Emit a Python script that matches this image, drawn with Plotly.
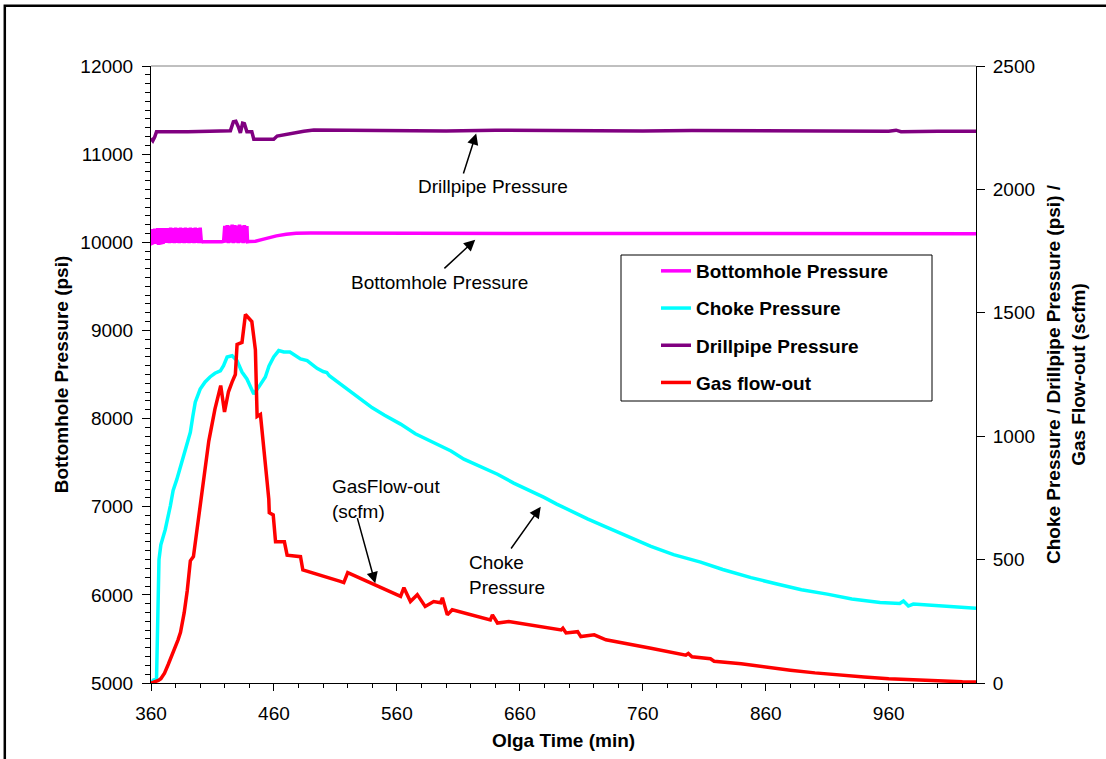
import plotly.graph_objects as go

FONT = "Liberation Sans, Arial, sans-serif"

# ---- Olga simulation output (time in minutes) ----
# Bottomhole pressure (psi, left axis)
bhp_t = [360, 360.5, 361, 362.5, 363, 363.5, 365, 365.5, 366, 367.5, 368, 368.5,
         370, 370.5, 371, 372, 373, 374, 375, 376, 377, 378, 379, 380, 381, 382,
         383, 384, 385, 386, 387, 388, 389, 390, 391, 392, 393, 394, 395, 396,
         397, 398, 399, 400, 401, 401.6, 405, 410, 415, 418.5,
         419, 420, 421, 422, 423, 424, 425, 426, 427, 428, 429, 430, 431, 432,
         433, 434, 435, 436, 437, 438, 438.5,
         440, 445, 450, 455, 462, 470, 478, 490, 520, 560, 600, 650, 700, 750,
         800, 850, 900, 950, 1000, 1031]
bhp_v = [9990, 10150, 9990, 10000, 10155, 10000, 10000, 10160, 9995, 10000, 10160, 9995,
         10000, 10160, 9995, 10160, 9995, 10160, 9990, 10165, 9995, 10160, 9990, 10165, 9995, 10160,
         9990, 10165, 9995, 10160, 9990, 10165, 9995, 10160, 9990, 10165, 9995, 10160, 9990, 10165,
         9995, 10160, 9990, 10165, 9995, 10005, 10005, 10002, 10005, 10008,
         9995, 10185, 9995, 10195, 9990, 10190, 9995, 10200, 9990, 10195, 9995, 10190, 9990, 10200,
         9995, 10190, 9990, 10195, 9995, 10185, 10005,
         10008, 10012, 10030, 10050, 10073, 10090, 10102, 10105, 10103, 10100, 10100, 10102, 10099, 10100,
         10101, 10099, 10100, 10098, 10099, 10098]

# Choke pressure (psi, right axis)
choke_t = [360, 362, 364.5, 366, 366.5, 368, 371.6, 375.7, 378, 381, 383.9, 388, 392, 394,
           396, 400, 404, 408, 412, 416.4, 419, 421.9, 426, 430, 434, 438, 441, 443.6,
           447.6, 453, 456, 459.8, 463.9, 468, 473, 478, 481.6, 487, 495, 500, 503, 505,
           514, 522, 530, 540, 550, 563, 575, 590, 604, 614.5, 625, 641.8, 655, 668,
           679.7, 690, 701.5, 715, 731.3, 750, 766.6, 785, 807, 825, 848, 870, 889,
           910, 930, 953, 969, 972, 976, 980, 1000, 1031]
choke_v = [0, 12, 16, 300, 500, 560, 622, 717, 780, 825, 879, 950, 1016, 1080,
           1138, 1191, 1220, 1240, 1255, 1265, 1286, 1321, 1326, 1306, 1260, 1232, 1195, 1171,
           1199, 1240, 1285, 1321, 1347, 1341, 1341, 1325, 1313, 1306, 1275, 1262, 1258, 1245,
           1211, 1180, 1150, 1115, 1085, 1049, 1010, 975, 940, 907, 885, 846, 810, 780,
           752, 725, 696, 665, 630, 590, 554, 520, 490, 460, 427, 400, 378,
           360, 340, 326, 322, 332, 312, 320, 313, 303]

# Drillpipe pressure (psi, right axis)
dp_t = [360, 361.5, 363, 364.5, 390, 410, 424.6, 427, 429, 431, 432.7, 434.5, 436, 438,
        442, 443.6, 459.8, 462.6, 473.4, 484.3, 492.4, 514, 540, 570, 600, 640, 680,
        720, 760, 800, 850, 900, 960, 966, 970, 1000, 1031]
dp_v = [2207, 2197, 2212, 2234, 2234, 2236, 2238, 2274, 2276, 2254, 2229, 2268, 2266, 2234,
        2234, 2203, 2203, 2216, 2227, 2236, 2241, 2240, 2238, 2240, 2237, 2240, 2238,
        2239, 2237, 2239, 2238, 2237, 2236, 2240, 2234, 2236, 2236]

# Gas flow-out (scfm, right axis)
gas_t = [360, 363, 366, 368, 371, 374, 378, 382, 384, 387, 389.5, 392, 394.5, 398, 402.5,
         407, 412, 416.7, 419.8, 423, 426, 428.6, 430, 434, 436.8, 439, 442, 444.9, 446.3,
         449, 451.7, 454.5, 455.8, 456.2, 459.4, 461.3, 468.5, 470.7, 481.6, 483.5, 514,
         516.8, 520, 563, 565.7, 571, 576.6, 583, 589.9, 595.6, 597, 601, 605, 636, 637.7,
         641.8, 651, 693.6, 695, 697.6, 707, 709.6, 720.5, 730, 766.6, 780, 795, 797, 800,
         815, 818, 840, 860, 880, 900, 920, 940, 960, 980, 1000, 1020, 1031]
gas_v = [0, 4, 10, 17, 40, 75, 122, 175, 205, 285, 375, 495, 512, 640, 820,
         980, 1110, 1205, 1098, 1180, 1220, 1250, 1372, 1380, 1493, 1480, 1465, 1350, 1080,
         1088, 935, 812, 745, 690, 681, 572, 572, 518, 512, 458, 412,
         407, 447, 351, 386, 330, 358, 310, 330, 325, 345, 276, 297, 256, 276,
         243, 249, 215, 222, 203, 208, 188, 195, 175, 141, 128, 113, 120, 106,
         98, 88, 78, 64, 52, 41, 31, 24, 17, 12, 8, 5, 4]

series = [
    ("Bottomhole Pressure", bhp_t, bhp_v, "#FF00FF", "y"),
    ("Choke Pressure", choke_t, choke_v, "#00FFFF", "y2"),
    ("Drillpipe Pressure", dp_t, dp_v, "#800080", "y2"),
    ("Gas flow-out", gas_t, gas_v, "#FF0000", "y2"),
]

fig = go.Figure()
for name, t, v, color, axis in series:
    fig.add_trace(go.Scatter(
        x=t, y=v, name=name, yaxis=axis, mode="lines", legendgroup=name,
        line=dict(color=color, width=3.5),
    ))

# Callout labels and their arrows: (text, text x, text y, yref, align)
labels = [
    ("Drillpipe Pressure", 638.3, 2010, "y2", "center"),
    ("Bottomhole Pressure", 594.8, 9540, "y", "center"),
    ("GasFlow-out<br>(scfm)", 505.7, 744, "y2", "left"),
    ("Choke<br>Pressure", 617.0, 438, "y2", "left"),
]
# (head x, head y, tail x, tail y, yref)
arrows = [
    (624.5, 2227, 613.7, 2058, "y2"),
    (623.7, 10028, 597.4, 9688, "y"),
    (542.4, 404, 527.5, 674, "y2"),
    (677.0, 714, 652.0, 539, "y2"),
]

annotations = []
for text, x, y, yref, align in labels:
    annotations.append(dict(
        text=text, x=x, y=y, xref="x", yref=yref, showarrow=False,
        xanchor="left" if align == "left" else "center", yanchor="middle",
        align=align, font=dict(family=FONT, size=19, color="black"),
    ))
for hx, hy, tx, ty, yref in arrows:
    annotations.append(dict(
        text="", x=hx, y=hy, xref="x", yref=yref, ax=tx, ay=ty,
        axref="x", ayref=yref, showarrow=True, arrowhead=2, arrowsize=1.5,
        arrowwidth=1.5, arrowcolor="black", standoff=0, startstandoff=0,
    ))

tick_font = dict(family=FONT, size=19, color="black")
title_font = dict(family=FONT, size=19, color="black", weight="bold")

# legend frame in pixels of the page (left, right, top, bottom)
PLOT_L, PLOT_R, PLOT_T, PLOT_B = 151, 976, 66, 683
box_l, box_r, box_t, box_b = 621, 932, 255, 401


def px_to_paper_x(px):
    return (px - PLOT_L) / (PLOT_R - PLOT_L)


def px_to_paper_y(py):
    return (PLOT_B - py) / (PLOT_B - PLOT_T)


fig.update_layout(
    width=1106, height=759,
    margin=dict(l=PLOT_L, r=1106 - PLOT_R, t=PLOT_T, b=759 - PLOT_B),
    paper_bgcolor="white", plot_bgcolor="white",
    font=dict(family=FONT, size=19, color="black"),
    showlegend=True,
    legend=dict(
        x=px_to_paper_x(box_l), y=px_to_paper_y(box_t - 3), xanchor="left", yanchor="top",
        borderwidth=0, bgcolor="rgba(0,0,0,0)",
        font=dict(family=FONT, size=19, color="black", weight="bold"),
        tracegroupgap=9.5, indentation=35,
    ),
    xaxis=dict(
        range=[360, 1031], tick0=360, dtick=100,
        ticks="outside", ticklen=7, tickwidth=1, tickcolor="black",
        minor=dict(dtick=20, tick0=360, ticks="outside", ticklen=4, tickcolor="black"),
        showline=True, linecolor="black", linewidth=1,
        showgrid=False, zeroline=False, tickfont=tick_font,
        ticklabelstandoff=6,
        title=dict(text="Olga Time (min)", font=title_font, standoff=10),
    ),
    yaxis=dict(
        range=[5000, 12000], tick0=5000, dtick=1000, tickformat="d",
        ticks="outside", ticklen=8, tickwidth=1, tickcolor="black",
        minor=dict(dtick=100, tick0=5000, ticks="outside", ticklen=5, tickcolor="black"),
        showline=True, linecolor="black", linewidth=1,
        showgrid=False, zeroline=False, tickfont=tick_font,
        ticklabelstandoff=5,
        title=dict(text="Bottomhole Pressure (psi)", font=title_font, standoff=6),
    ),
    yaxis2=dict(
        range=[0, 2500], tick0=0, dtick=500, tickformat="d", overlaying="y", side="right",
        ticks="outside", ticklen=8, tickwidth=1, tickcolor="black",
        showline=True, linecolor="black", linewidth=1,
        showgrid=False, zeroline=False, tickfont=tick_font,
        ticklabelstandoff=4,
        title=dict(text="Choke Pressure / Drillpipe Pressure (psi) /<br>Gas Flow-out (scfm)",
                   font=title_font, standoff=12),
    ),
    annotations=annotations,
    shapes=[
        # top edge of the plotting area
        dict(type="line", xref="paper", yref="paper", x0=0, x1=1, y0=1, y1=1,
             line=dict(color="#808080", width=1)),
        # legend frame
        dict(type="rect", xref="paper", yref="paper",
             x0=px_to_paper_x(box_l), x1=px_to_paper_x(box_r),
             y0=px_to_paper_y(box_b), y1=px_to_paper_y(box_t),
             line=dict(color="black", width=1), fillcolor="white", layer="below"),
        # frame around the whole chart
        dict(type="rect", xref="paper", yref="paper",
             x0=px_to_paper_x(4.8), x1=px_to_paper_x(1115),
             y0=px_to_paper_y(770), y1=px_to_paper_y(5.8),
             line=dict(color="black", width=2.5)),
    ],
)

fig.write_html("out.html")
